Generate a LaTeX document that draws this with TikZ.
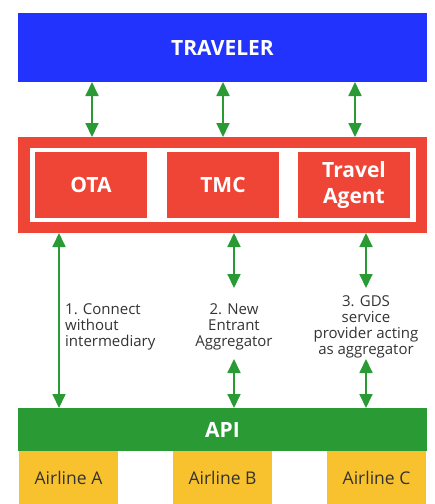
\documentclass[tikz,border=0pt]{standalone}
\usepackage{fontspec}
\setmainfont{Open Sans}
\usetikzlibrary{arrows.meta}
\definecolor{tblue}{HTML}{2233FD}
\definecolor{tred}{HTML}{EF4536}
\definecolor{tgreen}{HTML}{2A9A35}
\definecolor{tyellow}{HTML}{F8C22F}
\definecolor{tgray}{HTML}{333333}
\begin{document}
\begin{tikzpicture}[x=1pt,y=-1pt,
  box/.style={inner sep=0pt,outer sep=0pt,anchor=north west},
  boldtxt/.style={text=white,font=\fontsize{21}{24}\selectfont\bfseries,align=center},
  airl/.style={box,fill=tyellow,minimum width=99pt,minimum height=53pt,text=tgray,font=\fontsize{17.5}{20}\selectfont},
  conn/.style={draw=tgreen,line width=1.8pt,{Triangle[width=13pt,length=14pt]}-{Triangle[width=13pt,length=14pt]}},
  lbl/.style={text=tgray,font=\fontsize{15}{16}\selectfont,inner sep=0pt}]
\useasboundingbox (0,0) rectangle (435,504);
% traveler
\node[box,fill=tblue,minimum width=409pt,minimum height=69pt,boldtxt] (trav) at (18,13) {TRAVELER};
% red group
\node[box,fill=tred,minimum width=409pt,minimum height=96pt] (grp) at (18,137) {};
\node[box,fill=white,minimum width=386pt,minimum height=74pt] (inner) at (30,148) {};
\node[box,fill=tred,minimum width=112pt,minimum height=66pt,boldtxt] (ota) at (35,152) {OTA};
\node[box,fill=tred,minimum width=112pt,minimum height=66pt,boldtxt] (tmc) at (167,152) {TMC};
\node[box,fill=tred,minimum width=112pt,minimum height=66pt,boldtxt] (ta) at (298,152) {Travel\\[2pt]Agent};
% API
\node[box,fill=tgreen,minimum width=409pt,minimum height=43pt,boldtxt] (api) at (18,408) {API};
% airlines
\node[airl] (aa) at (19,451) {Airline A};
\node[airl] (ab) at (173,451) {Airline B};
\node[airl] (ac) at (327,451) {Airline C};
% top connectors
\coordinate (t1) at (92,82); \coordinate (g1) at (92,137);
\coordinate (t2) at (223,82); \coordinate (g2) at (223,137);
\coordinate (t3) at (355,82); \coordinate (g3) at (355,137);
\draw[conn] (t1) -- (g1);
\draw[conn] (t2) -- (g2);
\draw[conn] (t3) -- (g3);
% labels
\node[lbl,align=left,anchor=north west] (l1) at (65,303) {1. Connect\\without\\intermediary};
\node[lbl,align=center,anchor=north] (l2) at (234,303) {2. New\\Entrant\\Aggregator};
\node[lbl,align=center,anchor=north] (l3) at (366,295) {3. GDS\\service\\provider acting\\as aggregator};
% bottom connectors
\coordinate (b1) at (59,233); \coordinate (a1) at (59,408);
\coordinate (b2) at (234,233); \coordinate (m2a) at (234,288);
\coordinate (m2b) at (234,359); \coordinate (a2) at (234,408);
\coordinate (b3) at (366,233); \coordinate (m3a) at (366,288);
\coordinate (m3b) at (366,359); \coordinate (a3) at (366,408);
\draw[conn] (b1) -- (a1);
\draw[conn] (b2) -- (m2a);
\draw[conn] (m2b) -- (a2);
\draw[conn] (b3) -- (m3a);
\draw[conn] (m3b) -- (a3);
\end{tikzpicture}
\end{document}
